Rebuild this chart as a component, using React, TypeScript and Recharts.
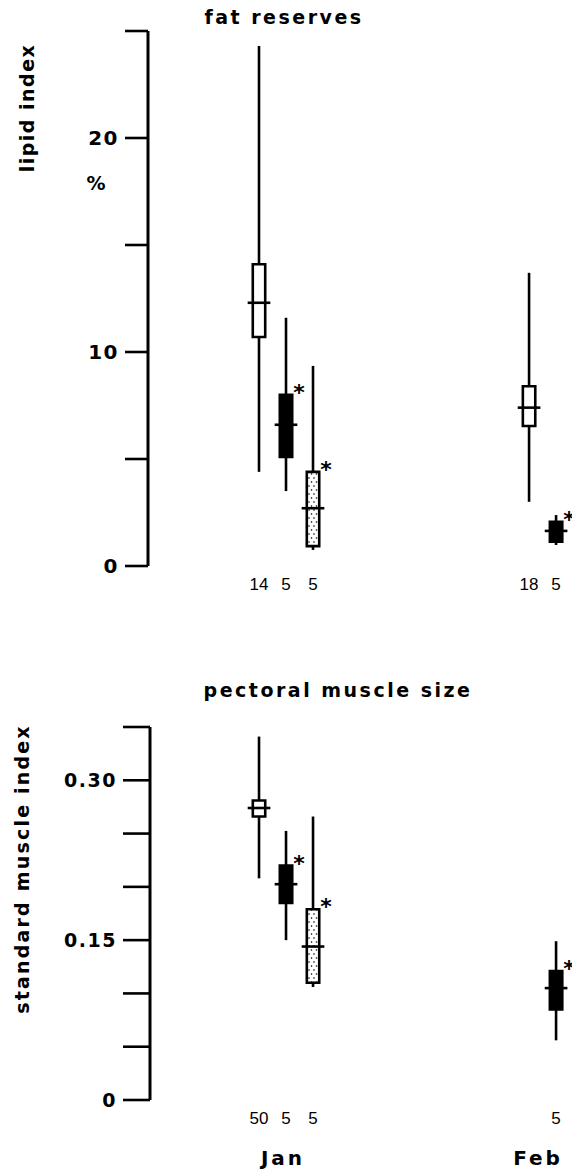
import React from 'react';
import { ComposedChart, ReferenceArea, ReferenceLine, Scatter, XAxis, YAxis } from 'recharts';

// x slots: Jan groups at 1..3, Feb groups at 11..12
const fatSlot = [1, 2, 3, 11, 12];
const fatGroup = ['open', 'solid', 'stippled', 'open', 'solid'];
const fatMin = [4.4, 3.5, 0.75, 3.0, 0.98];
const fatQ1 = [10.7, 5.1, 0.93, 6.54, 1.14];
const fatMedian = [12.3, 6.6, 2.7, 7.4, 1.64];
const fatQ3 = [14.1, 8.0, 4.4, 8.4, 2.06];
const fatMax = [24.3, 11.6, 9.35, 13.7, 2.38];
const fatN = ['14', '5', '5', '18', '5'];
const fatStar = [false, true, true, false, true];
const fatTicks = [0, 5, 10, 15, 20, 25];
const fatTickLabels = ['0', '', '10', '', '20', ''];

const muscleSlot = [1, 2, 3, 12];
const muscleGroup = ['open', 'solid', 'stippled', 'solid'];
const muscleMin = [0.208, 0.15, 0.106, 0.056];
const muscleQ1 = [0.266, 0.185, 0.11, 0.085];
const muscleMedian = [0.274, 0.2025, 0.144, 0.105];
const muscleQ3 = [0.281, 0.22, 0.179, 0.121];
const muscleMax = [0.341, 0.2525, 0.266, 0.149];
const muscleN = ['50', '5', '5', '5'];
const muscleStar = [false, true, true, true];
const muscleTicks = [0, 0.05, 0.1, 0.15, 0.2, 0.25, 0.3, 0.35];
const muscleTickLabels = ['0', '', '', '0.15', '', '', '0.30', ''];

const months = ['Jan', 'Feb'];

type Box = { x: number; group: string; min: number; q1: number; median: number; q3: number; max: number; n: string; star: boolean };

const buildBoxes = (
  slot: number[], group: string[], min: number[], q1: number[], median: number[], q3: number[], max: number[], n: string[], star: boolean[],
): Box[] =>
  slot.map((x, i) => ({ x, group: group[i], min: min[i], q1: q1[i], median: median[i], q3: q3[i], max: max[i], n: n[i], star: star[i] }));

const fatBoxes = buildBoxes(fatSlot, fatGroup, fatMin, fatQ1, fatMedian, fatQ3, fatMax, fatN, fatStar);
const muscleBoxes = buildBoxes(muscleSlot, muscleGroup, muscleMin, muscleQ1, muscleMedian, muscleQ3, muscleMax, muscleN, muscleStar);

const BOX_HALF = 0.23;
const MEDIAN_HALF = 0.42;
const LINE_W = 2.6;
const BOLD = "'DejaVu Sans', sans-serif";
const NARROW = "'Liberation Sans Narrow', 'Liberation Sans', Arial, sans-serif";

const fillFor = (group: string, patternId: string) =>
  group === 'solid' ? '#000' : group === 'stippled' ? `url(#${patternId})` : '#fff';

const renderBoxes = (boxes: Box[], patternId: string) =>
  boxes.flatMap((b, i) => [
    <ReferenceLine
      key={`lo-${i}`}
      segment={[{ x: b.x, y: b.min }, { x: b.x, y: b.q1 }]}
      stroke="#000"
      strokeWidth={LINE_W}
    />,
    <ReferenceLine
      key={`hi-${i}`}
      segment={[{ x: b.x, y: b.q3 }, { x: b.x, y: b.max }]}
      stroke="#000"
      strokeWidth={LINE_W}
    />,
    <ReferenceArea
      key={`box-${i}`}
      x1={b.x - BOX_HALF}
      x2={b.x + BOX_HALF}
      y1={b.q1}
      y2={b.q3}
      fill={fillFor(b.group, patternId)}
      fillOpacity={1}
      stroke="#000"
      strokeWidth={LINE_W}
    />,
    <ReferenceLine
      key={`med-${i}`}
      segment={[{ x: b.x - MEDIAN_HALF, y: b.median }, { x: b.x + MEDIAN_HALF, y: b.median }]}
      stroke="#000"
      strokeWidth={LINE_W}
    />,
  ]);

const Star = (props: any) => {
  const { cx, cy } = props;
  if (cx == null || cy == null) return <g />;
  return (
    <text x={cx + 13} y={cy + 5} textAnchor="middle" fontSize={22} fontWeight={700} fontFamily={BOLD} fill="#000">
      *
    </text>
  );
};

const Stipple = ({ id }: { id: string }) => (
  <defs>
    <pattern id={id} patternUnits="userSpaceOnUse" width={5} height={8}>
      <rect width={5} height={8} fill="#fff" />
      <circle cx={1.5} cy={2} r={0.8} fill="#000" />
      <circle cx={4} cy={6} r={0.8} fill="#000" />
    </pattern>
  </defs>
);

const yTick = { fill: '#000', fontSize: 20, fontWeight: 700, fontFamily: BOLD, letterSpacing: 1.5 };
const nTick = { fill: '#000', fontSize: 17, fontFamily: NARROW };

const Label = ({ x, y, size, rotate, spacing, children }: any) => (
  <div
    style={{
      position: 'absolute',
      left: x,
      top: y,
      transform: `translate(-50%, -50%)${rotate ? ' rotate(-90deg)' : ''}`,
      fontFamily: BOLD,
      fontWeight: 700,
      fontSize: size,
      letterSpacing: spacing,
      lineHeight: 1,
      whiteSpace: 'nowrap',
      color: '#000',
    }}
  >
    {children}
  </div>
);

export default function App() {
  const fatStars = fatBoxes.filter((b) => b.star).map((b) => ({ x: b.x, y: b.q3 }));
  const muscleStars = muscleBoxes.filter((b) => b.star).map((b) => ({ x: b.x, y: b.q3 }));

  return (
    <div style={{ position: 'absolute', left: 0, top: 0, width: 576, height: 1171, background: '#fff', overflow: 'hidden' }}>
      <div style={{ position: 'absolute', left: 0, top: 0 }}>
        <ComposedChart width={576} height={610} margin={{ top: 31, right: 4, bottom: 14, left: 0 }}>
          <Stipple id="stipple-fat" />
          <XAxis
            type="number"
            dataKey="x"
            domain={[-3.11, 12.59]}
            allowDataOverflow
            ticks={fatBoxes.map((b) => b.x)}
            interval={0}
            tickFormatter={(v: number) => fatBoxes.find((b) => b.x === v)?.n ?? ''}
            axisLine={false}
            tickLine={false}
            tickSize={6}
            tickMargin={6}
            height={30}
            tick={nTick}
          />
          <YAxis
            type="number"
            dataKey="y"
            domain={[0, 25]}
            allowDataOverflow
            ticks={fatTicks}
            interval={0}
            tickFormatter={(v: number) => fatTickLabels[fatTicks.indexOf(v)] ?? ''}
            width={148}
            axisLine={{ stroke: '#000', strokeWidth: 3 }}
            tickLine={{ stroke: '#000', strokeWidth: 2.6 }}
            tickSize={23}
            tickMargin={6}
            tick={yTick}
          />
          {renderBoxes(fatBoxes, 'stipple-fat')}
          <Scatter data={fatStars} shape={Star} isAnimationActive={false} />
        </ComposedChart>
      </div>

      <div style={{ position: 'absolute', left: 0, top: 620 }}>
        <ComposedChart width={576} height={551} margin={{ top: 107, right: 4, bottom: 41, left: 0 }}>
          <Stipple id="stipple-muscle" />
          <XAxis
            type="number"
            dataKey="x"
            domain={[-3.037, 12.59]}
            allowDataOverflow
            ticks={muscleBoxes.map((b) => b.x)}
            interval={0}
            tickFormatter={(v: number) => muscleBoxes.find((b) => b.x === v)?.n ?? ''}
            axisLine={false}
            tickLine={false}
            tickSize={6}
            tickMargin={6}
            height={30}
            tick={nTick}
          />
          <YAxis
            type="number"
            dataKey="y"
            domain={[0, 0.35]}
            allowDataOverflow
            ticks={muscleTicks}
            interval={0}
            tickFormatter={(v: number) => muscleTickLabels[muscleTicks.indexOf(v)] ?? ''}
            width={150}
            axisLine={{ stroke: '#000', strokeWidth: 3 }}
            tickLine={{ stroke: '#000', strokeWidth: 2.6 }}
            tickSize={27}
            tickMargin={6}
            tick={{ ...yTick, fontSize: 19 }}
          />
          {renderBoxes(muscleBoxes, 'stipple-muscle')}
          <Scatter data={muscleStars} shape={Star} isAnimationActive={false} />
        </ComposedChart>
      </div>

      <Label x={284} y={17} size={19} spacing={2.5}>fat reserves</Label>
      <Label x={27} y={108} size={19} spacing={1.5} rotate>lipid index</Label>
      <Label x={96} y={183} size={19} spacing={0}>%</Label>
      <Label x={338} y={690} size={19} spacing={2.5}>pectoral muscle size</Label>
      <Label x={22} y={869} size={19} spacing={2.2} rotate>standard muscle index</Label>
      <Label x={283} y={1158} size={20} spacing={3}>{months[0]}</Label>
      <Label x={538} y={1158} size={20} spacing={3}>{months[1]}</Label>
    </div>
  );
}
